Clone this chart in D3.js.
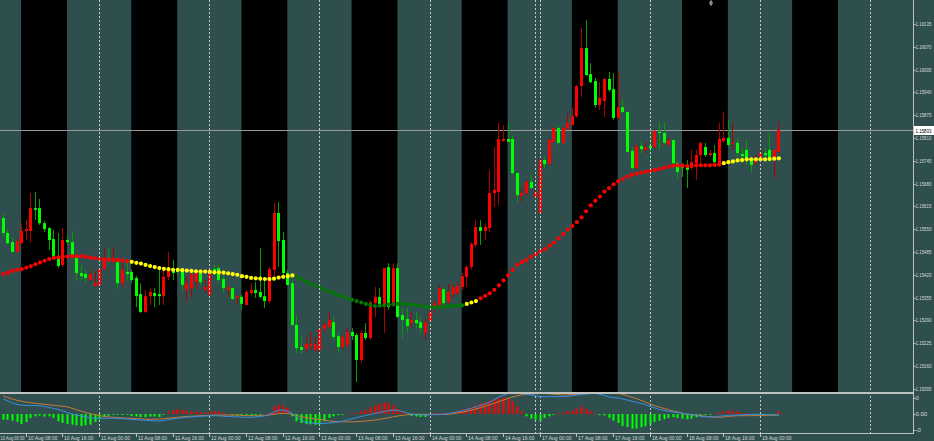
<!DOCTYPE html>
<html><head><meta charset="utf-8">
<script src="https://cdn.jsdelivr.net/npm/d3@7/dist/d3.min.js"></script>
<style>html,body{margin:0;padding:0;background:#2F4F4F;overflow:hidden}svg{display:block}</style>
</head><body>
<svg id="c" width="934" height="441"></svg>
<script>
// ---------- DATA ----------
// bars are counted in trading hours from 10 Aug 00:00 (weekend skipped); first visible bar = hour 3
const firstHour = 3;
const tradingDays = ["10 Aug","11 Aug","12 Aug","13 Aug","14 Aug","17 Aug","18 Aug","19 Aug","20 Aug"];
const timeLabelHours = ["00:00","08:00","16:00"];
const priceTicks = [1.15095,1.15160,1.15225,1.15290,1.15355,1.15420,1.15485,1.15550,1.15615,1.15680,1.15745,1.15810,1.15875,1.15940,1.16005,1.16070,1.16135];
const currentPrice = 1.15833;
const indicatorTicks = [16, 0, -16];            // in pips (0.0001)
const indicatorTickLabels = ["0", "0.00", "-0"];

const open = [
1.15582,1.15539,1.15513,1.15485,1.15510,1.15545,1.15545,1.15610,1.15610,1.15567,
1.15553,1.15522,1.15473,1.15448,1.15519,1.15513,1.15476,1.15425,1.15422,1.15405,
1.15388,1.15391,1.15436,1.15468,1.15456,1.15456,1.15396,1.15428,1.15428,1.15411,
1.15365,1.15314,1.15359,1.15368,1.15365,1.15359,1.15414,1.15436,1.15436,1.15431,
1.15377,1.15382,1.15399,1.15431,1.15377,1.15362,1.15436,1.15439,1.15408,1.15377,
1.15382,1.15354,1.15357,1.15334,1.15368,1.15377,1.15371,1.15359,1.15345,1.15434,
1.15596,1.15519,1.15425,1.15396,1.15277,1.15214,1.15208,1.15217,1.15206,1.15206,
1.15265,1.15271,1.15285,1.15245,1.15214,1.15220,1.15257,1.15248,1.15177,1.15254,
1.15240,1.15339,1.15357,1.15334,1.15442,1.15334,1.15439,1.15305,1.15294,1.15282,
1.15291,1.15285,1.15254,1.15288,1.15328,1.15334,1.15379,1.15342,1.15365,1.15368,
1.15385,1.15414,1.15442,1.15505,1.15556,1.15545,1.15553,1.15653,1.15656,1.15801,
1.15807,1.15807,1.15710,1.15644,1.15653,1.15685,1.15642,1.15596,1.15747,1.15735,
1.15799,1.15838,1.15796,1.15836,1.15847,1.15872,1.15958,1.16066,1.15992,1.15972,
1.15904,1.15915,1.15978,1.15949,1.15867,1.15898,1.15884,1.15773,1.15724,1.15787,
1.15776,1.15787,1.15784,1.15827,1.15824,1.15790,1.15804,1.15738,1.15727,1.15727,
1.15724,1.15738,1.15761,1.15784,1.15761,1.15767,1.15733,1.15801,1.15810,1.15793,
1.15796,1.15764,1.15776,1.15747,1.15738,1.15747,1.15767,1.15776,1.15747,1.15770];
const high = [
1.15593,1.15548,1.15525,1.15525,1.15567,1.15576,1.15653,1.15656,1.15636,1.15573,
1.15556,1.15548,1.15539,1.15553,1.15533,1.15542,1.15478,1.15448,1.15434,1.15434,
1.15428,1.15442,1.15496,1.15496,1.15499,1.15462,1.15453,1.15453,1.15434,1.15416,
1.15396,1.15377,1.15382,1.15382,1.15439,1.15434,1.15485,1.15462,1.15439,1.15434,
1.15414,1.15434,1.15434,1.15434,1.15405,1.15439,1.15448,1.15448,1.15416,1.15386,
1.15385,1.15362,1.15362,1.15377,1.15396,1.15399,1.15496,1.15405,1.15442,1.15624,
1.15627,1.15542,1.15434,1.15405,1.15305,1.15243,1.15243,1.15257,1.15243,1.15271,
1.15285,1.15314,1.15297,1.15254,1.15244,1.15268,1.15268,1.15254,1.15263,1.15282,
1.15348,1.15385,1.15382,1.15440,1.15453,1.15453,1.15453,1.15325,1.15325,1.15314,
1.15314,1.15300,1.15297,1.15325,1.15348,1.15391,1.15385,1.15396,1.15391,1.15399,
1.15425,1.15448,1.15513,1.15576,1.15576,1.15567,1.15719,1.15784,1.15853,1.15847,
1.15853,1.15818,1.15713,1.15667,1.15690,1.15705,1.15667,1.15753,1.15756,1.15810,
1.15841,1.15847,1.15841,1.15881,1.15896,1.15961,1.16123,1.16146,1.16023,1.15981,
1.15969,1.15981,1.15998,1.15995,1.15998,1.15921,1.15885,1.15784,1.15790,1.15799,
1.15796,1.15824,1.15833,1.15855,1.15855,1.15810,1.15805,1.15741,1.15738,1.15747,
1.15776,1.15776,1.15799,1.15796,1.15776,1.15790,1.15853,1.15884,1.15861,1.15853,
1.15810,1.15781,1.15804,1.15753,1.15761,1.15781,1.15781,1.15824,1.15777,1.15855];
const low = [
1.15528,1.15505,1.15482,1.15482,1.15508,1.15519,1.15513,1.15576,1.15562,1.15542,
1.15491,1.15468,1.15439,1.15442,1.15505,1.15471,1.15405,1.15405,1.15399,1.15402,
1.15385,1.15385,1.15434,1.15453,1.15453,1.15382,1.15385,1.15405,1.15396,1.15328,
1.15311,1.15311,1.15334,1.15328,1.15334,1.15334,1.15405,1.15405,1.15419,1.15377,
1.15342,1.15357,1.15377,1.15391,1.15368,1.15357,1.15419,1.15399,1.15371,1.15357,
1.15348,1.15334,1.15320,1.15333,1.15362,1.15354,1.15354,1.15325,1.15339,1.15414,
1.15442,1.15419,1.15390,1.15274,1.15197,1.15197,1.15200,1.15206,1.15200,1.15200,
1.15257,1.15268,1.15234,1.15197,1.15206,1.15214,1.15234,1.15114,1.15168,1.15234,
1.15234,1.15300,1.15328,1.15254,1.15320,1.15328,1.15297,1.15240,1.15254,1.15268,
1.15268,1.15254,1.15234,1.15285,1.15311,1.15328,1.15328,1.15339,1.15354,1.15362,
1.15377,1.15385,1.15434,1.15499,1.15505,1.15519,1.15542,1.15613,1.15619,1.15799,
1.15798,1.15705,1.15627,1.15627,1.15647,1.15665,1.15639,1.15593,1.15724,1.15733,
1.15796,1.15790,1.15795,1.15833,1.15846,1.15867,1.15927,1.15988,1.15966,1.15896,
1.15890,1.15870,1.15941,1.15861,1.15861,1.15881,1.15767,1.15719,1.15719,1.15767,
1.15767,1.15738,1.15781,1.15776,1.15790,1.15787,1.15733,1.15696,1.15699,1.15667,
1.15719,1.15690,1.15733,1.15756,1.15756,1.15733,1.15727,1.15796,1.15784,1.15776,
1.15756,1.15741,1.15733,1.15713,1.15733,1.15741,1.15753,1.15741,1.15696,1.15767];
const close = [
1.15539,1.15510,1.15485,1.15516,1.15545,1.15550,1.15610,1.15605,1.15567,1.15550,
1.15519,1.15471,1.15445,1.15519,1.15513,1.15476,1.15425,1.15416,1.15411,1.15422,
1.15396,1.15436,1.15468,1.15462,1.15468,1.15396,1.15434,1.15422,1.15405,1.15359,
1.15314,1.15359,1.15371,1.15359,1.15359,1.15414,1.15434,1.15425,1.15428,1.15391,
1.15396,1.15422,1.15425,1.15399,1.15385,1.15434,1.15428,1.15405,1.15382,1.15385,
1.15351,1.15359,1.15337,1.15371,1.15377,1.15368,1.15357,1.15345,1.15436,1.15596,
1.15516,1.15425,1.15391,1.15277,1.15211,1.15206,1.15223,1.15223,1.15223,1.15265,
1.15277,1.15291,1.15243,1.15214,1.15243,1.15257,1.15245,1.15177,1.15254,1.15240,
1.15342,1.15357,1.15334,1.15439,1.15328,1.15439,1.15300,1.15291,1.15274,1.15291,
1.15282,1.15268,1.15285,1.15314,1.15339,1.15382,1.15339,1.15371,1.15385,1.15388,
1.15416,1.15442,1.15508,1.15556,1.15545,1.15556,1.15653,1.15662,1.15807,1.15807,
1.15799,1.15710,1.15647,1.15653,1.15685,1.15667,1.15656,1.15747,1.15735,1.15804,
1.15838,1.15796,1.15838,1.15853,1.15872,1.15958,1.16066,1.15989,1.15969,1.15904,
1.15924,1.15978,1.15947,1.15867,1.15898,1.15884,1.15770,1.15724,1.15787,1.15778,
1.15784,1.15781,1.15830,1.15824,1.15796,1.15804,1.15738,1.15713,1.15724,1.15719,
1.15741,1.15761,1.15796,1.15761,1.15767,1.15741,1.15807,1.15810,1.15790,1.15796,
1.15767,1.15758,1.15753,1.15733,1.15747,1.15767,1.15761,1.15753,1.15776,1.15833];

// dotted moving average and its trend colouring (segments start at the given hour)
const movingAverage = [
1.15422,1.15426,1.15431,1.15434,1.15436,1.15440,1.15444,1.15450,1.15455,1.15460,
1.15465,1.15468,1.15470,1.15471,1.15472,1.15473,1.15473,1.15473,1.15471,1.15469,
1.15467,1.15465,1.15463,1.15463,1.15463,1.15462,1.15461,1.15459,1.15457,1.15454,
1.15452,1.15448,1.15445,1.15442,1.15439,1.15437,1.15436,1.15434,1.15434,1.15433,
1.15432,1.15431,1.15430,1.15429,1.15429,1.15428,1.15427,1.15427,1.15426,1.15424,
1.15422,1.15420,1.15416,1.15414,1.15411,1.15410,1.15409,1.15408,1.15408,1.15409,
1.15412,1.15414,1.15416,1.15418,1.15413,1.15407,1.15400,1.15394,1.15389,1.15383,
1.15377,1.15372,1.15367,1.15362,1.15358,1.15353,1.15349,1.15345,1.15341,1.15337,
1.15334,1.15331,1.15332,1.15333,1.15335,1.15336,1.15337,1.15337,1.15336,1.15335,
1.15333,1.15331,1.15329,1.15327,1.15327,1.15328,1.15329,1.15330,1.15331,1.15332,
1.15333,1.15337,1.15341,1.15345,1.15353,1.15360,1.15367,1.15377,1.15390,1.15404,
1.15418,1.15434,1.15448,1.15456,1.15462,1.15471,1.15479,1.15487,1.15493,1.15503,
1.15512,1.15524,1.15536,1.15549,1.15559,1.15570,1.15584,1.15601,1.15618,1.15631,
1.15643,1.15657,1.15667,1.15678,1.15686,1.15693,1.15700,1.15705,1.15708,1.15711,
1.15713,1.15716,1.15719,1.15721,1.15725,1.15728,1.15731,1.15732,1.15731,1.15730,
1.15730,1.15732,1.15732,1.15732,1.15732,1.15733,1.15734,1.15738,1.15741,1.15743,
1.15746,1.15747,1.15749,1.15749,1.15749,1.15749,1.15749,1.15750,1.15751,1.15752];
const maTrendStart = [3, 31, 67, 104, 107, 160];
const maTrend = ["up", "flat", "down", "flat", "up", "flat"];

// oscillator panel, values in pips (0.0001)
const histogramPips = [
-5.7,-5.7,-6.7,-8,-10,-8,-4,-2.3,-1.7,-2.7,
-2.3,-4,-7.3,-9,-10,-10.7,-11.3,-12,-11.3,-10.7,
-8,-5.3,-3.3,-1.7,-0.7,-0.7,-0.7,-0.7,-2,-2.5,
-3,-3,-2.5,-2.5,-3,-0.5,2,4,4.7,4.3,
3.3,2.7,2.7,2,1.7,2,3,2.7,1.3,0.3,
-1.3,-1.3,-1.3,-1.3,-1.3,-1.3,-1,0.5,1,7.3,
9.3,8.7,6,-2.3,-7.3,-9,-10,-10.3,-10.7,-10.7,
-7.3,-4,-2.3,-1.3,-0.5,0.7,0.7,1,2.7,4.3,
6.7,8.7,10.3,11.3,11,8.7,5.3,2.7,0.5,-2,
-2.5,-3,-3,-1,0.7,0.7,1,1.3,1.7,3.3,
4.3,5.3,6.7,8.7,11,12,13.3,14.3,16,16.7,
16,12.7,7.7,2.7,-2.3,-4.7,-5.7,-6.7,-4,-2.3,
-0.7,1,1.3,2.7,3.3,5.3,7.7,5.3,2.7,0.5,
-1,-1.5,-4,-6.7,-9,-12,-13,-14.7,-14.7,-13.3,
-12.3,-10.7,-8,-6.7,-5.3,-4,-3.3,-4,-4.7,-5.3,
-4.7,-3.3,-1.3,-0.7,-0.5,0.5,1.3,2.7,3.3,3.3,
2.7,1,0.5,-0.7,-1,-1,-1,-1,-1,2.7];
const mainLinePips = [
15,13,11,9.5,9,8.5,8.5,8.5,8.3,7.5,
6.5,5.5,4.5,3,1.5,0,-1,-2,-3,-3.8,
-4.2,-4.3,-4.3,-4.3,-4.3,-4.3,-4.7,-5,-5.4,-5.7,
-6,-6.3,-6.6,-6.9,-7,-6.5,-5.7,-4.8,-4.3,-3.8,
-3.3,-2.9,-2.5,-2.2,-2,-1.8,-1.7,-1.9,-2.2,-2.5,
-2.7,-2.9,-3.1,-3.3,-3.3,-3,-2.5,-1.8,-0.3,2,
3.5,4,2.7,0.5,-3,-6.5,-8.5,-9,-9.3,-9.5,
-9.3,-9,-8.5,-8,-7,-6,-4.7,-3.5,-2.5,-1.5,
-0.5,0.5,1.5,2.5,3.3,4,3.5,2.5,1,-0.3,
-0.8,-1,-1,-0.8,-0.6,-0.4,-0.3,0.5,1.3,2.2,
3.2,4.5,5.8,7.2,8.7,10.2,12,14.5,17,19,
20.5,20.8,21,20.5,19.7,19,18.2,17.5,17.3,17.3,
17.3,17.3,17.3,17.7,18.3,19,19.5,20,20.5,20.7,
19.7,18.5,17,16.5,16,15,14,12.7,11.7,10.5,
9.2,7.5,6,4.5,3.5,2.7,2,1.3,0.7,0,
-0.7,-1.5,-2.3,-2.8,-3,-2.7,-2.2,-1.8,-1.4,-1.1,
-1,-0.8,-0.6,-0.4,-0.3,-0.4,-0.6,-0.8,-0.9,-1];
const signalLinePips = [
18,16.5,15,13.7,12.7,11.8,11.2,10.7,10.2,9.7,
9.2,8.7,8.2,7.7,7.1,5.7,4.2,2.8,1.5,0.3,
-0.8,-1.7,-2.3,-2.9,-3.4,-3.8,-4,-4.2,-4.3,-4.6,
-4.9,-5.1,-5.3,-5.2,-5,-4.6,-4.2,-3.8,-3.3,-2.8,
-2.5,-2.2,-2,-1.7,-1.5,-1.3,-1.1,-1,-1,-1,
-1,-1.2,-1.4,-1.6,-1.7,-1.7,-1.7,-1.6,-1,-0.3,
0.4,0.7,0.4,-0.2,-1.5,-2.8,-3.5,-4.3,-5,-5.5,
-6.2,-6.8,-7.3,-7.7,-7.8,-7.8,-7.8,-7.7,-7.4,-7,
-6.5,-6,-5.3,-4.5,-3.7,-2.7,-2,-1.3,-0.8,-0.3,
-0.3,-0.3,-0.3,-0.3,-0.3,-0.3,-0.3,-0.3,0.3,1,
1.7,2.8,3.9,5,6.4,7.9,9.3,10.7,12.4,14,
15.7,17,18.2,19,19.7,20,20.4,20.7,20.5,20.2,
19.8,19.4,19,19.2,19.5,19.7,20,20.3,20.5,20.7,
20.7,20.7,20.7,20.7,20.7,19.5,18.2,16.7,15.3,13.6,
11.7,9.8,8.2,6.8,5.5,4.2,3,1.8,0.7,-0.2,
-0.8,-1.3,-1.6,-2.2,-2.8,-3.2,-3.3,-3,-2.5,-2,
-1.7,-1.7,-1.7,-1.7,-1.6,-1.5,-1.4,-1.3,-1.2,-1];

// sessions & separators (hours)
const sessionStartHour = 7, sessionEndHour = 17, sessionDayCount = 8;
const separatorHours = [24, 48, 72, 96, 119, 120, 144, 168, 192];

// ---------- DRAWING ----------
const W = 934, H = 441;
const plotRight = 913, mainBottom = 392, indTop = 393, indBottom = 433;
const C = {
  bg: "#2F4F4F", session: "#000000", grid: "#c8c8c8", frame: "#c0c0c0", text: "#d8d8d8",
  bullBody: "#ff0000", bullWick: "#b00000", bearBody: "#00ff00", bearWick: "#00a000",
  up: "#ff0000", flat: "#ffff00", down: "#007a00",
  histUp: "#ff0000", histDown: "#00ff00", mainLine: "#3a8ee0", signalLine: "#c87a3a"
};
const FONT = "'Liberation Sans', Arial, sans-serif";
const labelX = plotRight + 2.5, labelMaxW = W - labelX - 2.5;

// squeeze a text horizontally (keeping its height) so it fits in maxW px
function fitText(sel, x0, maxW) {
  sel.each(function () {
    const t = d3.select(this), yy = +t.attr("data-y");
    const w = this.getComputedTextLength();
    const s = w > maxW ? maxW / w : 1;
    t.attr("x", 0).attr("y", 0).attr("transform", `translate(${x0(t.datum())},${yy}) scale(${s},1)`);
  });
}

const svg = d3.select("#c");
const x = d3.scaleLinear().domain([0, 168]).range([-11, 760]);
const y = d3.scaleLinear().domain([1.15095, 1.16135]).range([388.8, 23.9]);
const yi = d3.scaleLinear().domain([-20, 20]).range([434, 394]);
const cx = h => Math.round(x(h));

svg.append("rect").attr("width", W).attr("height", H).attr("fill", C.bg);

const defs = svg.append("defs");
defs.append("clipPath").attr("id", "clipMain").append("rect").attr("x", 0).attr("y", 0).attr("width", plotRight).attr("height", mainBottom);
defs.append("clipPath").attr("id", "clipInd").append("rect").attr("x", 0).attr("y", indTop).attr("width", plotRight).attr("height", indBottom - indTop);

const main = svg.append("g").attr("clip-path", "url(#clipMain)");
main.selectAll("rect.session").data(d3.range(sessionDayCount)).join("rect")
  .attr("class", "session")
  .attr("x", d => x(24 * d + sessionStartHour))
  .attr("width", d => x(24 * d + sessionEndHour) - x(24 * d + sessionStartHour))
  .attr("y", 0).attr("height", mainBottom).attr("fill", C.session);

// period separators
svg.append("g").selectAll("line").data(separatorHours).join("line")
  .attr("x1", d => cx(d) + 0.5).attr("x2", d => cx(d) + 0.5)
  .attr("y1", 0).attr("y2", indBottom)
  .attr("stroke", C.grid).attr("stroke-width", 1).attr("stroke-dasharray", "2,2");

// current price line
const yCur = Math.round(y(currentPrice)) + 0.5;
main.append("line").attr("x1", 0).attr("x2", plotRight).attr("y1", yCur).attr("y2", yCur)
  .attr("stroke", "#9a9a9a").attr("stroke-width", 1);

// candles
const bars = open.map((o, i) => ({ t: firstHour + i, o, h: high[i], l: low[i], c: close[i] }));
const cg = main.append("g");
cg.selectAll("line.wick").data(bars).join("line").attr("class", "wick")
  .attr("x1", d => cx(d.t) + 0.5).attr("x2", d => cx(d.t) + 0.5)
  .attr("y1", d => y(d.h)).attr("y2", d => y(d.l))
  .attr("stroke", d => d.c >= d.o ? C.bullWick : C.bearWick).attr("stroke-width", 1);
cg.selectAll("rect.body").data(bars).join("rect").attr("class", "body")
  .attr("x", d => cx(d.t) - 1).attr("width", 3)
  .attr("y", d => y(Math.max(d.o, d.c)))
  .attr("height", d => Math.max(1, Math.abs(y(d.o) - y(d.c))))
  .attr("fill", d => d.c >= d.o ? C.bullBody : C.bearBody);

// moving average dots
const trendAt = t => { let s = maTrend[0]; maTrendStart.forEach((st, k) => { if (t >= st) s = maTrend[k]; }); return s; };
main.append("g").selectAll("circle").data(movingAverage.map((v, i) => ({ t: firstHour + i, v }))).join("circle")
  .attr("cx", d => x(d.t) + 0.5).attr("cy", d => y(d.v)).attr("r", 2.1)
  .attr("fill", d => C[trendAt(d.t)]);

// oscillator panel
const ind = svg.append("g").attr("clip-path", "url(#clipInd)");
const y0 = yi(0);
ind.selectAll("rect").data(histogramPips.map((v, i) => ({ t: firstHour + i, v }))).join("rect")
  .attr("x", d => cx(d.t) - 0.5).attr("width", 2)
  .attr("y", d => Math.min(yi(d.v), y0)).attr("height", d => Math.max(0.8, Math.abs(yi(d.v) - y0)))
  .attr("fill", d => d.v >= 0 ? C.histUp : C.histDown);
const lineGen = d3.line().x((v, i) => x(firstHour + i) + 0.5).y(v => yi(v));
ind.append("path").attr("d", lineGen(signalLinePips)).attr("fill", "none").attr("stroke", C.signalLine).attr("stroke-width", 1);
ind.append("path").attr("d", lineGen(mainLinePips)).attr("fill", "none").attr("stroke", C.mainLine).attr("stroke-width", 1);

// frame lines
svg.append("rect").attr("x", 0).attr("y", mainBottom).attr("width", plotRight).attr("height", 2).attr("fill", C.frame);
svg.append("line").attr("x1", 0).attr("x2", plotRight + 0.5).attr("y1", indBottom + 0.5).attr("y2", indBottom + 0.5).attr("stroke", C.frame);
svg.append("line").attr("x1", plotRight + 0.5).attr("x2", plotRight + 0.5).attr("y1", 0).attr("y2", indBottom + 1).attr("stroke", C.frame);

// price axis (labels squeezed to fit the narrow strip right of the axis)
const pa = svg.append("g");
pa.selectAll("line").data(priceTicks).join("line")
  .attr("x1", plotRight).attr("x2", plotRight + 2.5)
  .attr("y1", d => Math.round(y(d)) + 0.5).attr("y2", d => Math.round(y(d)) + 0.5).attr("stroke", C.frame);
pa.selectAll("text").data(priceTicks).join("text")
  .attr("data-y", d => y(d)).attr("dy", "0.35em")
  .attr("font-family", FONT).attr("font-size", 6).attr("fill", C.text)
  .text(d => d.toFixed(5))
  .call(fitText, () => labelX, labelMaxW);

// current price tag
svg.append("rect").attr("x", plotRight + 1).attr("y", yCur - 4.5).attr("width", W - plotRight).attr("height", 9).attr("fill", "#ffffff");
svg.append("text").datum(currentPrice).attr("data-y", yCur).attr("dy", "0.35em")
  .attr("font-family", FONT).attr("font-size", 6).attr("fill", "#000")
  .text(currentPrice.toFixed(5))
  .call(fitText, () => labelX, labelMaxW);

// oscillator axis
const ia = svg.append("g");
ia.selectAll("line").data(indicatorTicks).join("line")
  .attr("x1", plotRight).attr("x2", plotRight + 2.5)
  .attr("y1", d => Math.round(yi(d)) + 0.5).attr("y2", d => Math.round(yi(d)) + 0.5).attr("stroke", C.frame);
ia.selectAll("text").data(indicatorTicks).join("text")
  .attr("x", labelX).attr("y", d => yi(d)).attr("dy", "0.35em")
  .attr("font-family", FONT).attr("font-size", 6).attr("fill", C.text)
  .text((d, i) => indicatorTickLabels[i]);

// time axis
const timeTicks = d3.range(0, 169, 8);
const ta = svg.append("g");
ta.selectAll("line").data(timeTicks).join("line")
  .attr("x1", d => cx(d) + 0.5).attr("x2", d => cx(d) + 0.5)
  .attr("y1", indBottom).attr("y2", indBottom + 4).attr("stroke", C.frame);
const timeText = ta.selectAll("text").data(timeTicks).join("text")
  .attr("data-y", 440).attr("font-family", FONT).attr("font-size", 5).attr("fill", C.text)
  .text(d => tradingDays[Math.floor(d / 24)] + " " + timeLabelHours[(d % 24) / 8]);
// first label starts left of the window: keep it whole, squeezed into the space before the next tick
timeText.filter(d => cx(d) + 2 >= 0).call(fitText, d => cx(d) + 2, 33);
timeText.filter(d => cx(d) + 2 < 0).call(fitText, () => 0.5, cx(8) - 2);

// small object marker at the top
svg.append("path").attr("d", d3.symbol(d3.symbolDiamond, 14)())
  .attr("transform", "translate(711,3)").attr("fill", "#8c8c8c");
</script>
</body></html>
